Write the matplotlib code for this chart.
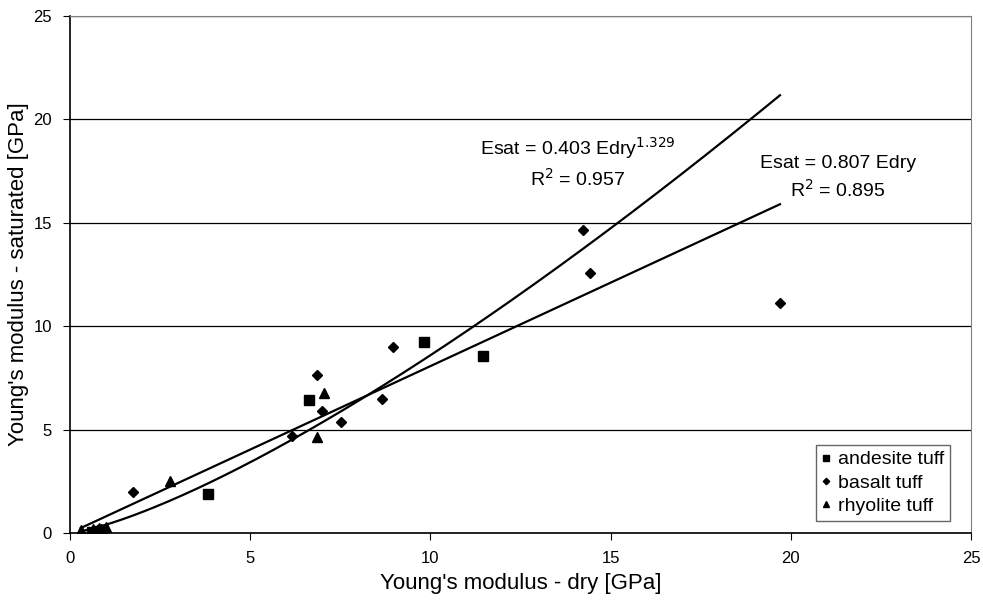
import numpy as np
from matplotlib import pyplot as plt

plt.rcParams['font.family'] = ['Liberation Sans', 'DejaVu Sans']

# andesite tuff (squares)
and_dry = [0.6, 0.75, 0.9, 3.84, 6.63, 9.83, 11.47]
and_sat = [0.06, 0.12, 0.15, 1.87, 6.43, 9.22, 8.57]

# basalt tuff (diamonds)
bas_dry = [0.7, 0.85, 1.76, 6.17, 6.85, 6.98, 7.51, 8.65, 8.97, 14.24, 14.43, 19.7]
bas_sat = [0.12, 0.2, 2.0, 4.68, 7.64, 5.92, 5.35, 6.48, 9.01, 14.64, 12.56, 11.14]

# rhyolite tuff (triangles)
rhy_dry = [0.3, 0.65, 0.8, 1.0, 2.77, 6.86, 7.06]
rhy_sat = [0.15, 0.18, 0.22, 0.3, 2.51, 4.63, 6.79]

# trend lines as printed on the chart
pow_a, pow_b = 0.403, 1.329
lin_a = 0.807
fit_start, fit_end = 0.3, 19.7

fig = plt.figure(figsize=(9.83, 6.01), dpi=100)
ax = fig.add_axes([0.0712, 0.1131, 0.9166, 0.8603])

xf = np.linspace(fit_start, fit_end, 200)
ax.plot(xf, pow_a * xf ** pow_b, color='black', lw=1.6, zorder=3)
ax.plot(xf, lin_a * xf, color='black', lw=1.6, zorder=3)

ax.plot(and_dry, and_sat, 's', color='black', ms=6.5, label='andesite tuff', zorder=4)
ax.plot(bas_dry, bas_sat, 'D', color='black', ms=5, label='basalt tuff', zorder=4)
ax.plot(rhy_dry, rhy_sat, '^', color='black', ms=7, label='rhyolite tuff', zorder=4)

ax.set_xlim(0, 25)
ax.set_ylim(0, 25)
ax.set_xticks(range(0, 26, 5))
ax.set_yticks(range(0, 26, 5))
ax.yaxis.grid(True, color='black', lw=0.9)
ax.set_axisbelow(True)
ax.tick_params(direction='out', length=5, labelsize=12, pad=8, color='black')
for s in ['top', 'right']:
    ax.spines[s].set_color('#808080')
for s in ['left', 'bottom']:
    ax.spines[s].set_color('black')
    ax.spines[s].set_linewidth(1.2)

ax.set_xlabel("Young's modulus - dry [GPa]", fontsize=16, labelpad=5)
ax.set_ylabel("Young's modulus - saturated [GPa]", fontsize=16, labelpad=3)

ax.text(14.08, 18.28, r'Esat = 0.403 Edry$^{1.329}$', ha='center', va='baseline', fontsize=14)
ax.text(14.08, 16.78, r'R$^2$ = 0.957', ha='center', va='baseline', fontsize=14)
ax.text(21.3, 17.65, 'Esat = 0.807 Edry', ha='center', va='baseline', fontsize=14)
ax.text(21.3, 16.25, r'R$^2$ = 0.895', ha='center', va='baseline', fontsize=14)

leg = ax.legend(loc='lower right', bbox_to_anchor=(0.977, 0.023), fontsize=14,
                frameon=True, fancybox=False, edgecolor='#404040', handlelength=0.45,
                handletextpad=0.4, borderpad=0.3, labelspacing=0.3, markerscale=0.65,
                borderaxespad=0)
leg.get_frame().set_linewidth(1.0)

fig.savefig('out.png', dpi=100, facecolor='white')
